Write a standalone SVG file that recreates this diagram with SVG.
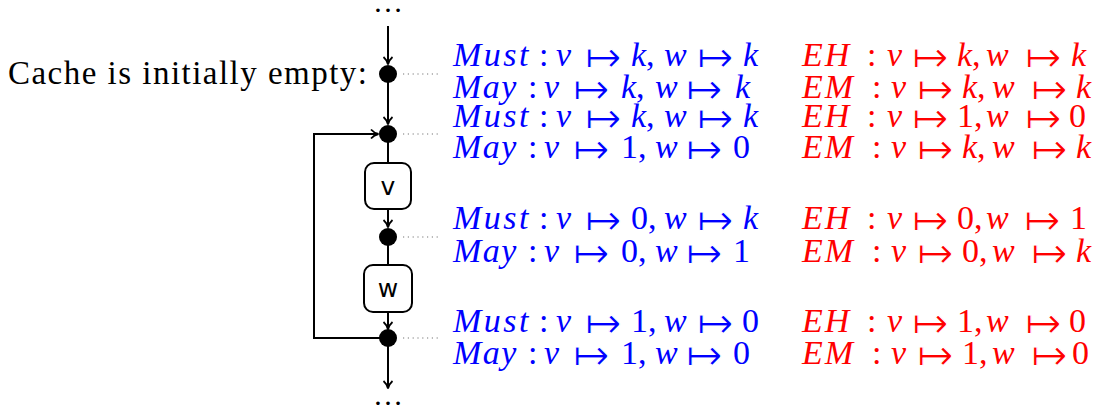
<svg xmlns="http://www.w3.org/2000/svg" width="1099" height="411" viewBox="0 0 1099 411">
<style>
.ln{fill:none;stroke:#000;stroke-width:2}
.dot{fill:#000}
.dt{stroke:#777;stroke-width:1.2;stroke-dasharray:1.2 3.6}
.box{fill:#fff;stroke:#000;stroke-width:2}
.lbl{font-family:"DejaVu Sans",sans-serif;font-size:25px;text-anchor:middle}
.m{font-family:"Liberation Serif",serif;font-size:34px}
.a{font-family:"DejaVu Sans ExtraLight","DejaVu Sans",sans-serif;font-size:44px;baseline-shift:-6px;stroke:#fff;stroke-width:1.1px}
.b{fill:#0000ff}
.r{fill:#ff0000}
.i{font-style:italic}
.w1{letter-spacing:2.5px}
.w2{letter-spacing:1.5px}
.w3{letter-spacing:2px}
.plain{font-family:"Liberation Serif",serif;font-size:30px}
.cap{font-family:"Liberation Serif",serif;font-size:33px}
</style>
<defs>
<marker id="ah" markerWidth="12" markerHeight="12" refX="9" refY="6" orient="auto" markerUnits="userSpaceOnUse">
<path d="M2,1.5 Q5,5 9.5,6 Q5,7 2,10.5" fill="none" stroke="#000" stroke-width="1.8"/>
</marker>
</defs>
<g id="connectors">
<line class="ln" x1="388" y1="26" x2="388" y2="64" marker-end="url(#ah)"/>
<line class="ln" x1="388" y1="74" x2="388" y2="124" marker-end="url(#ah)"/>
<line class="ln" x1="388" y1="134" x2="388" y2="163"/>
<line class="ln" x1="388" y1="209" x2="388" y2="227" marker-end="url(#ah)"/>
<line class="ln" x1="388" y1="237" x2="388" y2="265"/>
<line class="ln" x1="388" y1="312" x2="388" y2="329" marker-end="url(#ah)"/>
<line class="ln" x1="388" y1="338" x2="388" y2="388" marker-end="url(#ah)"/>
<polyline class="ln" points="388,338 314,338 314,134 378,134" marker-end="url(#ah)"/>
<line class="dt" x1="403" y1="74" x2="440" y2="74"/>
<line class="dt" x1="403" y1="134" x2="440" y2="134"/>
<line class="dt" x1="403" y1="237" x2="440" y2="237"/>
<line class="dt" x1="403" y1="338" x2="440" y2="338"/>
</g>
<g id="top-ellipsis"><text class="plain" x="388" y="12" text-anchor="middle">…</text></g>
<g id="bottom-ellipsis"><text class="plain" x="388" y="405" text-anchor="middle">…</text></g>
<g id="init-label"><text class="cap" x="8" y="84" textLength="359">Cache is initially empty:</text></g>
<g id="p1"><circle class="dot" cx="388" cy="74" r="9"/></g>
<g id="p2"><circle class="dot" cx="388" cy="134" r="9"/></g>
<g id="p3"><circle class="dot" cx="388" cy="237" r="9"/></g>
<g id="p4"><circle class="dot" cx="388" cy="338" r="9"/></g>
<g id="v"><rect class="box" x="365" y="163" width="46" height="46" rx="9"/><text class="lbl" x="388" y="195">v</text></g>
<g id="w"><rect class="box" x="364" y="265" width="48" height="47" rx="9"/><text class="lbl" x="388" y="297">w</text></g>
<g id="states1">
<text class="m b" y="66"><tspan x="453" class="i w1">Must</tspan><tspan x="539">:</tspan><tspan x="556" class="i">v</tspan><tspan x="585" class="a">↦</tspan><tspan x="631" class="i">k</tspan><tspan>,</tspan><tspan x="664" class="i">w</tspan><tspan x="697" class="a">↦</tspan><tspan x="743" class="i">k</tspan></text>
<text class="m b" y="98"><tspan x="453" class="i w2">May</tspan><tspan x="528">:</tspan><tspan x="544" class="i">v</tspan><tspan x="573" class="a">↦</tspan><tspan x="621" class="i">k</tspan><tspan>,</tspan><tspan x="655" class="i">w</tspan><tspan x="686" class="a">↦</tspan><tspan x="735" class="i">k</tspan></text>
<text class="m r" y="66"><tspan x="802" class="i w3">EH</tspan><tspan x="867">:</tspan><tspan x="887" class="i">v</tspan><tspan x="912" class="a">↦</tspan><tspan x="957" class="i">k</tspan><tspan>,</tspan><tspan x="986" class="i">w</tspan><tspan x="1025" class="a">↦</tspan><tspan x="1071" class="i">k</tspan></text>
<text class="m r" y="98"><tspan x="802" class="i w3">EM</tspan><tspan x="872">:</tspan><tspan x="891" class="i">v</tspan><tspan x="917" class="a">↦</tspan><tspan x="962" class="i">k</tspan><tspan>,</tspan><tspan x="992" class="i">w</tspan><tspan x="1031" class="a">↦</tspan><tspan x="1076" class="i">k</tspan></text>
</g>
<g id="states2">
<text class="m b" y="127"><tspan x="453" class="i w1">Must</tspan><tspan x="539">:</tspan><tspan x="556" class="i">v</tspan><tspan x="585" class="a">↦</tspan><tspan x="631" class="i">k</tspan><tspan>,</tspan><tspan x="664" class="i">w</tspan><tspan x="697" class="a">↦</tspan><tspan x="743" class="i">k</tspan></text>
<text class="m b" y="158"><tspan x="453" class="i w2">May</tspan><tspan x="528">:</tspan><tspan x="544" class="i">v</tspan><tspan x="573" class="a">↦</tspan><tspan x="621">1</tspan><tspan>,</tspan><tspan x="655" class="i">w</tspan><tspan x="686" class="a">↦</tspan><tspan x="733">0</tspan></text>
<text class="m r" y="127"><tspan x="802" class="i w3">EH</tspan><tspan x="867">:</tspan><tspan x="887" class="i">v</tspan><tspan x="912" class="a">↦</tspan><tspan x="957">1</tspan><tspan>,</tspan><tspan x="986" class="i">w</tspan><tspan x="1025" class="a">↦</tspan><tspan x="1069">0</tspan></text>
<text class="m r" y="158"><tspan x="802" class="i w3">EM</tspan><tspan x="872">:</tspan><tspan x="891" class="i">v</tspan><tspan x="917" class="a">↦</tspan><tspan x="962" class="i">k</tspan><tspan>,</tspan><tspan x="992" class="i">w</tspan><tspan x="1031" class="a">↦</tspan><tspan x="1076" class="i">k</tspan></text>
</g>
<g id="states3">
<text class="m b" y="229"><tspan x="453" class="i w1">Must</tspan><tspan x="539">:</tspan><tspan x="556" class="i">v</tspan><tspan x="585" class="a">↦</tspan><tspan x="631">0</tspan><tspan>,</tspan><tspan x="664" class="i">w</tspan><tspan x="697" class="a">↦</tspan><tspan x="743" class="i">k</tspan></text>
<text class="m b" y="262"><tspan x="453" class="i w2">May</tspan><tspan x="528">:</tspan><tspan x="544" class="i">v</tspan><tspan x="573" class="a">↦</tspan><tspan x="621">0</tspan><tspan>,</tspan><tspan x="655" class="i">w</tspan><tspan x="686" class="a">↦</tspan><tspan x="733">1</tspan></text>
<text class="m r" y="229"><tspan x="802" class="i w3">EH</tspan><tspan x="867">:</tspan><tspan x="887" class="i">v</tspan><tspan x="912" class="a">↦</tspan><tspan x="957">0</tspan><tspan>,</tspan><tspan x="986" class="i">w</tspan><tspan x="1024" class="a">↦</tspan><tspan x="1070">1</tspan></text>
<text class="m r" y="262"><tspan x="802" class="i w3">EM</tspan><tspan x="872">:</tspan><tspan x="891" class="i">v</tspan><tspan x="917" class="a">↦</tspan><tspan x="962">0</tspan><tspan>,</tspan><tspan x="992" class="i">w</tspan><tspan x="1031" class="a">↦</tspan><tspan x="1076" class="i">k</tspan></text>
</g>
<g id="states4">
<text class="m b" y="332"><tspan x="453" class="i w1">Must</tspan><tspan x="539">:</tspan><tspan x="556" class="i">v</tspan><tspan x="585" class="a">↦</tspan><tspan x="631">1</tspan><tspan>,</tspan><tspan x="664" class="i">w</tspan><tspan x="697" class="a">↦</tspan><tspan x="742">0</tspan></text>
<text class="m b" y="364"><tspan x="453" class="i w2">May</tspan><tspan x="528">:</tspan><tspan x="544" class="i">v</tspan><tspan x="573" class="a">↦</tspan><tspan x="621">1</tspan><tspan>,</tspan><tspan x="655" class="i">w</tspan><tspan x="686" class="a">↦</tspan><tspan x="733">0</tspan></text>
<text class="m r" y="332"><tspan x="802" class="i w3">EH</tspan><tspan x="867">:</tspan><tspan x="887" class="i">v</tspan><tspan x="912" class="a">↦</tspan><tspan x="957">1</tspan><tspan>,</tspan><tspan x="986" class="i">w</tspan><tspan x="1025" class="a">↦</tspan><tspan x="1069">0</tspan></text>
<text class="m r" y="364"><tspan x="802" class="i w3">EM</tspan><tspan x="872">:</tspan><tspan x="891" class="i">v</tspan><tspan x="917" class="a">↦</tspan><tspan x="962">1</tspan><tspan>,</tspan><tspan x="992" class="i">w</tspan><tspan x="1031" class="a">↦</tspan><tspan x="1072">0</tspan></text>
</g>
</svg>
